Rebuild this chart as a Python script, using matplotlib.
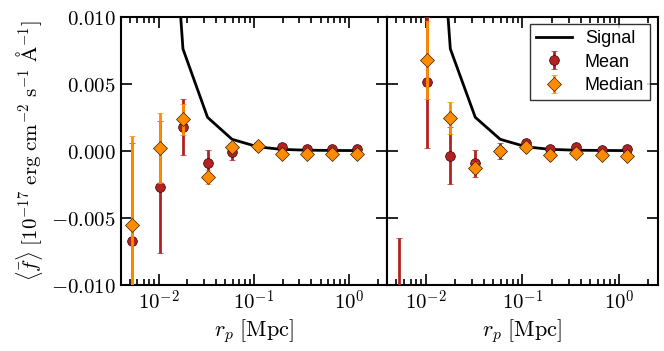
import numpy as np
import matplotlib
matplotlib.use("Agg")
import matplotlib.pyplot as plt
from matplotlib.ticker import FixedLocator, FuncFormatter, LogLocator, NullFormatter

plt.rcParams['mathtext.fontset'] = 'cm'

# Data
r_p = [0.0053, 0.0103, 0.0180, 0.0326, 0.059, 0.110, 0.195, 0.357, 0.66, 1.2]
signal = [0.12, 0.032, 0.0076, 0.0025, 0.00086, 0.00030, 0.00011, 0.00005, 0.00003, 0.00002]

left_mean = [-0.0067, -0.0027, 0.0018, -0.0009, -0.00007, 0.00036, 0.00028, 0.00013, 0.00013, 0.00015]
left_mean_err = [0.0073, 0.0049, 0.0021, 0.0010, 0.0006, 0.00015, 0.0001, 0.0001, 0.0001, 0.0001]
left_median = [-0.0055, 0.00023, 0.00235, -0.00195, 0.0003, 0.00038, -0.00026, -0.00026, -0.00026, -0.00026]
left_median_err = [0.0066, 0.0026, 0.00115, 0.0005, 0.0003, 0.00015, 0.0001, 0.0001, 0.0001, 0.0001]

right_mean = [-0.012, 0.0051, -0.00036, -0.00093, 0.0, 0.0006, 0.00013, 0.00026, 0.00006, 0.00013]
right_mean_err = [0.0055, 0.0049, 0.00214, 0.0010, 0.0006, 0.00015, 0.0001, 0.0001, 0.0001, 0.0001]
right_median = [-0.015, 0.0068, 0.00242, -0.00126, 0.0, 0.00026, -0.0003, -0.00019, -0.00034, -0.00036]
right_median_err = [0.004, 0.0029, 0.0012, 0.0004, 0.0003, 0.00015, 0.0001, 0.0001, 0.0001, 0.0001]

yticks = [-0.010, -0.005, 0.0, 0.005, 0.010]
xticks = [0.01, 0.1, 1.0]

red = '#B22222'
orange = '#FF8C00'

fig = plt.figure(figsize=(6.64, 3.51), dpi=100)
ax1 = fig.add_axes([0.1818, 0.188, 0.4012, 0.7644])
ax2 = fig.add_axes([0.583, 0.188, 0.4075, 0.7644], sharey=ax1)

def yfmt(v, pos):
    s = f"{v:.3f}"
    if s == '-0.000':
        s = '0.000'
    if s.startswith('-'):
        return r'$-' + s[1:] + '$'
    return '$' + s + '$'

def xfmt(v, pos):
    return r'$10^{%d}$' % int(round(np.log10(v)))

for ax, mean, merr, med, mederr in [(ax1, left_mean, left_mean_err, left_median, left_median_err),
                                     (ax2, right_mean, right_mean_err, right_median, right_median_err)]:
    ax.plot(r_p, signal, color='black', lw=2, label='Signal', zorder=2)
    ax.errorbar(r_p, mean, yerr=merr, fmt='o', color=red, ecolor=red, mec='#3a0000', mew=0.5,
                ms=7, elinewidth=2, capsize=2, capthick=1, label='Mean', zorder=3)
    ax.errorbar(r_p, med, yerr=mederr, fmt='D', color=orange, ecolor=orange, mec='#3a2000', mew=0.5,
                ms=7, elinewidth=2, capsize=2, capthick=1, label='Median', zorder=4)
    ax.set_xscale('log')
    ax.set_xlim(0.004, 2.5)
    ax.set_ylim(-0.010, 0.010)
    ax.yaxis.set_major_locator(FixedLocator(yticks))
    ax.yaxis.set_major_formatter(FuncFormatter(yfmt))
    ax.xaxis.set_major_locator(FixedLocator(xticks))
    ax.xaxis.set_major_formatter(FuncFormatter(xfmt))
    ax.xaxis.set_minor_locator(LogLocator(base=10, subs=np.arange(2, 10), numticks=20))
    ax.xaxis.set_minor_formatter(NullFormatter())
    ax.tick_params(which='both', direction='in', top=True, right=True, width=1.2)
    ax.tick_params(which='major', length=8, labelsize=15)
    ax.tick_params(which='minor', length=4)
    for sp in ax.spines.values():
        sp.set_linewidth(1.5)
    ax.set_xlabel(r'$r_p\ [\mathrm{Mpc}]$', fontsize=16, labelpad=2)

ax2.tick_params(labelleft=False)
ax1.set_ylabel(r'$\langle\bar{f}\rangle\ [10^{-17}\ \mathrm{erg\ cm^{-2}\ s^{-1}\ \AA^{-1}}]$', fontsize=15)

leg = ax2.legend(loc='upper right', fontsize=13, frameon=True, fancybox=False, numpoints=1,
                 handlelength=2.0, borderpad=0.35, labelspacing=0.35, handletextpad=0.7,
                 borderaxespad=0.4)
leg.get_frame().set_edgecolor('black')
leg.get_frame().set_linewidth(1.0)
for t in leg.get_texts():
    t.set_family('Liberation Sans')

fig.savefig('out.png', dpi=100)
